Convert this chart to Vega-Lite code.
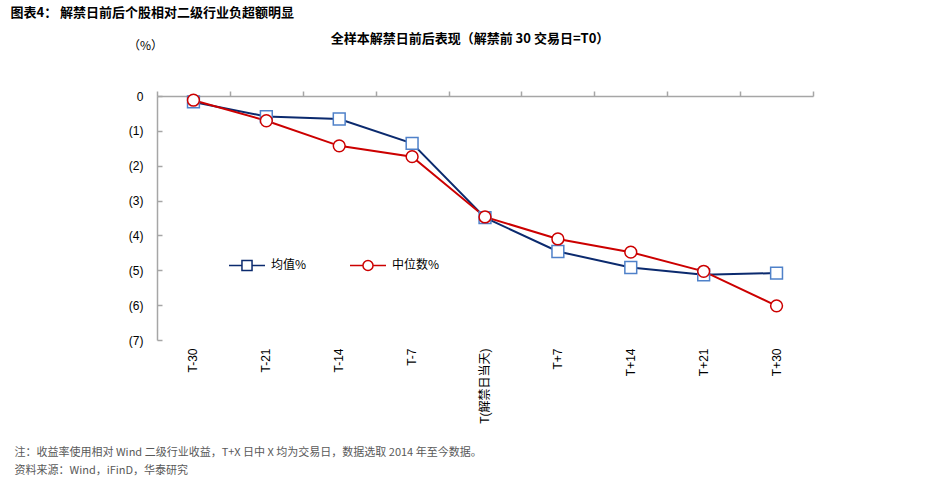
{
  "$schema": "https://vega.github.io/schema/vega-lite/v6.json",
  "width": 656,
  "height": 244,
  "autosize": "none",
  "padding": {"left": 157, "top": 96, "right": 126, "bottom": 147},
  "background": "white",
  "title": {
    "text": "全样本解禁日前后表现（解禁前 30 交易日=T0）",
    "font": "Noto Sans CJK SC",
    "fontSize": 13,
    "fontWeight": "bold",
    "color": "#000000",
    "anchor": "middle",
    "frame": "group",
    "dx": -15,
    "offset": 0,
    "dy": 40
  },
  "data": {
    "values": [
      {"t": "T-30", "series": "均值%", "value": -0.17},
      {"t": "T-21", "series": "均值%", "value": -0.59},
      {"t": "T-14", "series": "均值%", "value": -0.66},
      {"t": "T-7", "series": "均值%", "value": -1.36},
      {"t": "T(解禁日当天)", "series": "均值%", "value": -3.49},
      {"t": "T+7", "series": "均值%", "value": -4.46},
      {"t": "T+14", "series": "均值%", "value": -4.92},
      {"t": "T+21", "series": "均值%", "value": -5.13},
      {"t": "T+30", "series": "均值%", "value": -5.08},
      {"t": "T-30", "series": "中位数%", "value": -0.12},
      {"t": "T-21", "series": "中位数%", "value": -0.71},
      {"t": "T-14", "series": "中位数%", "value": -1.43},
      {"t": "T-7", "series": "中位数%", "value": -1.74},
      {"t": "T(解禁日当天)", "series": "中位数%", "value": -3.47},
      {"t": "T+7", "series": "中位数%", "value": -4.10},
      {"t": "T+14", "series": "中位数%", "value": -4.48},
      {"t": "T+21", "series": "中位数%", "value": -5.03},
      {"t": "T+30", "series": "中位数%", "value": -6.02}
    ]
  },
  "encoding": {
    "y": {
      "field": "value",
      "type": "quantitative",
      "scale": {"domain": [-7, 0], "nice": false, "zero": false},
      "axis": {
        "values": [0, -1, -2, -3, -4, -5, -6, -7],
        "labelExpr": "datum.value == 0 ? '0' : '(' + (-datum.value) + ')'",
        "labelOverlap": false,
        "labelFont": "Liberation Sans",
        "labelFontSize": 12,
        "labelColor": "#000000",
        "labelPadding": 19,
        "domainColor": "#a6a6a6",
        "domainWidth": 1.5,
        "tickColor": "#a6a6a6",
        "tickWidth": 1.5,
        "tickSize": -5,
        "grid": false,
        "title": "（%）",
        "titleFont": "Noto Sans CJK SC",
        "titleFontSize": 12,
        "titleFontWeight": "normal",
        "titleColor": "#000000",
        "titleAngle": 0,
        "titleAlign": "center",
        "titleBaseline": "middle",
        "titleX": -12,
        "titleY": -51
      }
    }
  },
  "layer": [
    {
      "mark": {"type": "line", "strokeWidth": 2},
      "encoding": {
        "x": {
          "field": "t",
          "type": "nominal",
          "sort": ["T-30", "T-21", "T-14", "T-7", "T(解禁日当天)", "T+7", "T+14", "T+21", "T+30"],
          "scale": {"paddingInner": 0, "paddingOuter": 0},
          "axis": {
            "orient": "top",
            "labels": false,
            "domain": true,
            "domainColor": "#a6a6a6",
            "domainWidth": 1.5,
            "ticks": true,
            "tickBand": "extent",
            "tickColor": "#a6a6a6",
            "tickWidth": 1.5,
            "tickSize": 5,
            "grid": false,
            "title": "图表4：  解禁日前后个股相对二级行业负超额明显",
            "titleFont": "Noto Sans CJK SC",
            "titleFontSize": 13,
            "titleFontWeight": "bold",
            "titleColor": "#000000",
            "titleAlign": "left",
            "titleAngle": 0,
            "titleBaseline": "middle",
            "titleX": -147,
            "titleY": -84
          }
        },
        "color": {
          "field": "series",
          "type": "nominal",
          "scale": {"domain": ["均值%", "中位数%"], "range": ["#0b2a6e", "#cc0000"]},
          "legend": {
            "orient": "none",
            "direction": "horizontal",
            "legendX": 71,
            "legendY": 150,
            "title": null,
            "symbolSize": 1296,
            "symbolStrokeWidth": 1.5,
            "symbolFillColor": "white",
            "labelFont": "Noto Sans CJK SC",
            "labelFontSize": 12,
            "labelColor": "#000000",
            "labelOffset": 5,
            "columnPadding": 40,
            "encode": {
              "symbols": {
                "update": {
                  "shape": {"signal": "datum.value == '均值%' ? 'M-1,0H-0.28M0.28,0H1M-0.28,-0.28H0.28V0.28H-0.28Z' : 'M-1,0H-0.28M0.28,0H1M-0.28,0A0.28,0.28,0,1,0,0.28,0A0.28,0.28,0,1,0,-0.28,0Z'"}
                }
              }
            }
          }
        }
      }
    },
    {
      "transform": [{"filter": "datum.series == '均值%'"}],
      "mark": {"type": "point", "shape": "square", "filled": true, "fill": "white", "stroke": "#4f81c9", "strokeWidth": 1.5, "size": 140, "opacity": 1},
      "encoding": {
        "x": {
          "field": "t",
          "type": "nominal",
          "sort": ["T-30", "T-21", "T-14", "T-7", "T(解禁日当天)", "T+7", "T+14", "T+21", "T+30"],
          "axis": {
            "orient": "bottom",
            "domain": false,
            "ticks": false,
            "grid": false,
            "labelAngle": -90,
            "labelAlign": "right",
            "labelBaseline": "middle",
            "labelPadding": 8,
            "labelFont": "Liberation Sans, Noto Sans CJK SC",
            "labelFontSize": 12,
            "labelColor": "#000000",
            "title": ["注：收益率使用相对 Wind 二级行业收益，T+X 日中 X 均为交易日，数据选取 2014 年至今数据。", "资料来源：Wind，iFinD，华泰研究"],
            "titleFont": "Noto Sans CJK SC",
            "titleFontSize": 11,
            "titleFontWeight": "normal",
            "titleColor": "#595959",
            "titleAlign": "left",
            "titleAngle": 0,
            "titleBaseline": "middle",
            "titleLineHeight": 18,
            "titleX": -143,
            "titleY": 112
          }
        }
      }
    },
    {
      "transform": [{"filter": "datum.series == '中位数%'"}],
      "mark": {"type": "point", "shape": "circle", "filled": true, "fill": "white", "stroke": "#cc0000", "strokeWidth": 1.5, "size": 140, "opacity": 1},
      "encoding": {
        "x": {
          "field": "t",
          "type": "nominal",
          "sort": ["T-30", "T-21", "T-14", "T-7", "T(解禁日当天)", "T+7", "T+14", "T+21", "T+30"],
          "axis": null
        }
      }
    }
  ],
  "resolve": {"axis": {"x": "independent"}},
  "config": {"view": {"stroke": null}, "axisY": {"labelOverlap": false}}
}
